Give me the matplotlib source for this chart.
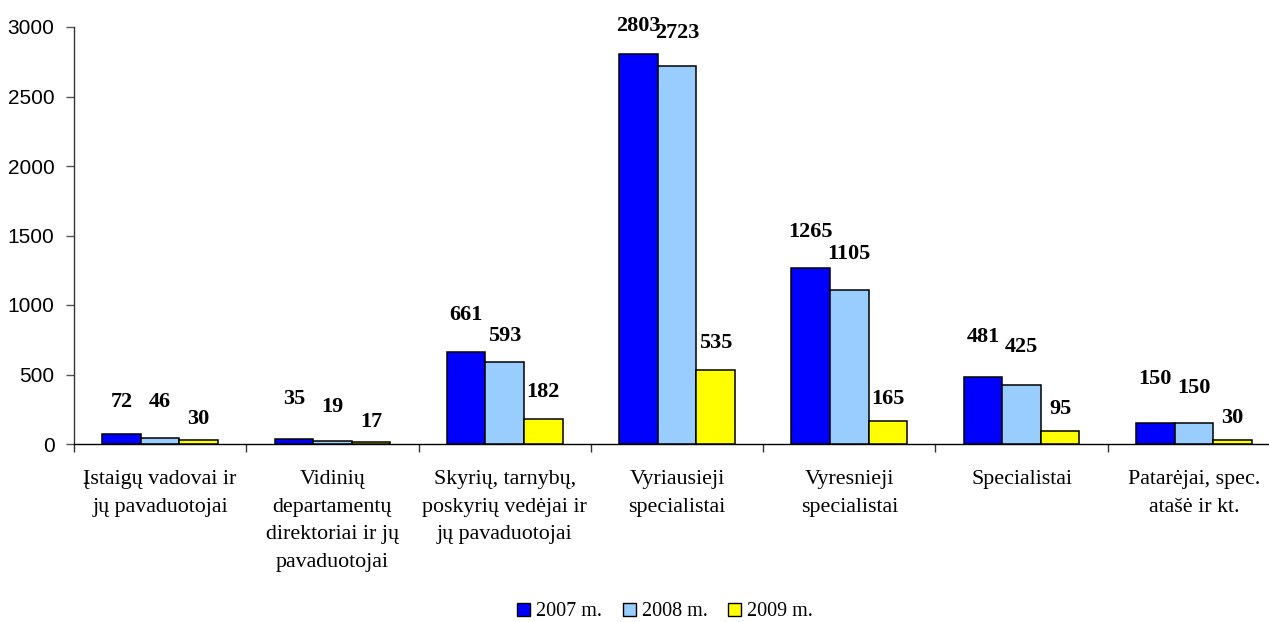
import matplotlib
matplotlib.use("Agg")
import matplotlib.pyplot as plt
from matplotlib.patches import Patch
from matplotlib.ticker import MultipleLocator, FixedLocator
import numpy as np

categories = [
    "Įstaigų vadovai ir\njų pavaduotojai",
    "Vidinių\ndepartamentų\ndirektoriai ir jų\npavaduotojai",
    "Skyrių, tarnybų,\nposkyrių vedėjai ir\njų pavaduotojai",
    "Vyriausieji\nspecialistai",
    "Vyresnieji\nspecialistai",
    "Specialistai",
    "Patarėjai, spec.\natašė ir kt.",
]
series_names = ["2007 m.", "2008 m.", "2009 m."]
values_2007 = [72, 35, 661, 2803, 1265, 481, 150]
values_2008 = [46, 19, 593, 2723, 1105, 425, 150]
values_2009 = [30, 17, 182, 535, 165, 95, 30]

# styling: colours and how far (px) each value label sits above its bar
colors = ["#0000FF", "#99CCFF", "#FFFF00"]
label_lift_px = [
    [32, 36, 21],
    [40, 34, 20],
    [37, 26, 27],
    [28, 33, 27],
    [36, 36, 22],
    [40, 38, 22],
    [44, 35, 22],
]

W, H = 1269, 622
fig = plt.figure(figsize=(W / 100, H / 100), dpi=100)
left, right, top, zero = 74, 1280, 27, 444
ax = fig.add_axes([left / W, (H - zero) / H, (right - left) / W, (zero - top) / H])

serif = "Liberation Serif"
sans = "Liberation Sans"

n = len(categories)
centers = np.arange(n) + 0.5
bw = 0.224
all_vals = [values_2007, values_2008, values_2009]
for s, vals in enumerate(all_vals):
    xs = centers + (s - 1) * bw
    ax.bar(xs, vals, width=bw, color=colors[s], edgecolor="black", linewidth=1.1, zorder=3)
    for i, (x, v) in enumerate(zip(xs, vals)):
        ax.annotate(str(v), xy=(x, v), xytext=(0, label_lift_px[i][s] * 0.72),
                    textcoords="offset points", ha="center", va="center",
                    fontsize=16, fontweight="bold", family=serif, color="black")

ax.set_xlim(0, n)
ax.set_ylim(0, 3000)
ax.yaxis.set_major_locator(MultipleLocator(500))
ax.set_xticks(centers)
ax.set_xticklabels(categories, family=serif, fontsize=15.8, linespacing=1.6)
ax.xaxis.set_minor_locator(FixedLocator(np.arange(n + 1)))
ax.tick_params(axis="x", which="major", length=0, pad=19)
ax.tick_params(axis="x", which="minor", length=6, width=1, color="#333333", direction="out")
ax.tick_params(axis="y", which="major", length=6, width=1, color="#555555", direction="out",
               pad=8, labelsize=15)
for lab in ax.get_yticklabels():
    lab.set_family(sans)

for sp in ["top", "right"]:
    ax.spines[sp].set_visible(False)
ax.spines["left"].set_color("#333333")
ax.spines["bottom"].set_color("black")
ax.spines["left"].set_linewidth(1)
ax.spines["bottom"].set_linewidth(1)

handles = [Patch(facecolor=c, edgecolor="black", linewidth=1) for c in colors]
fig.legend(handles, series_names, loc="center", bbox_to_anchor=(665 / W, (H - 612) / H),
           ncol=3, frameon=False, prop={"family": serif, "size": 14.5},
           handlelength=0.65, handleheight=0.65, handletextpad=0.3, columnspacing=1.0)

fig.savefig("out.png", dpi=100)
